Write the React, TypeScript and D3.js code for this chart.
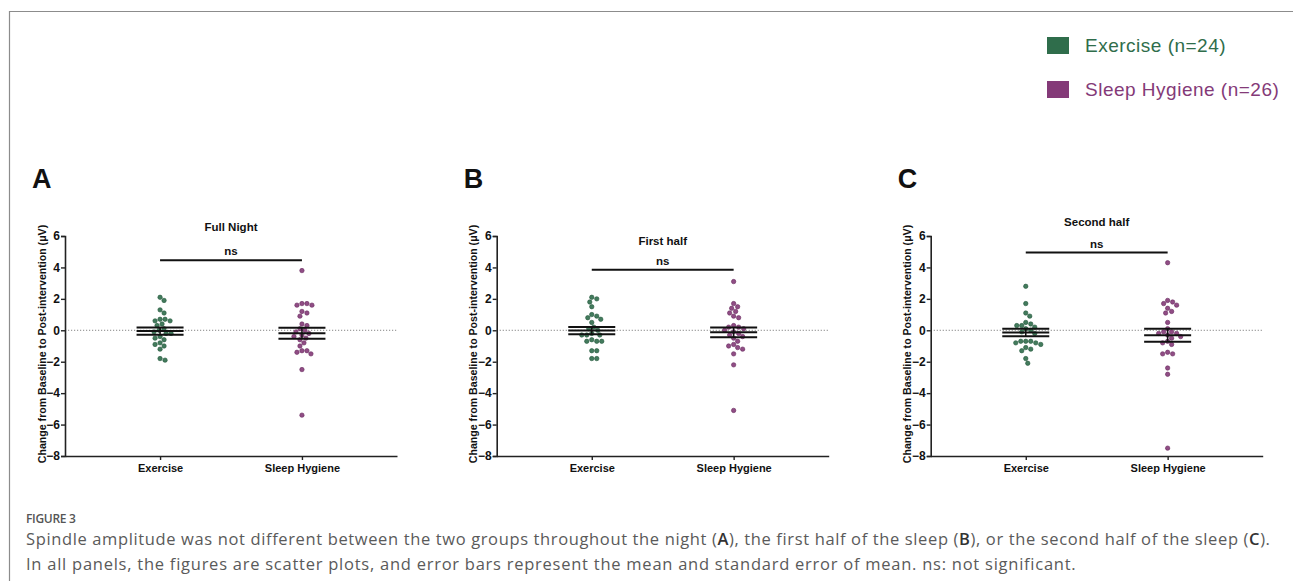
import React, { useEffect, useRef } from 'react';
import * as d3 from 'd3';

// groups and panels
const groups = ['Exercise', 'Sleep Hygiene'];
const panelLetters = ['A', 'B', 'C'];
const panelTitles = ['Full Night', 'First half', 'Second half'];
const yTicks = [6, 4, 2, 0, -2, -4, -6, -8];

// individual changes (µV)
const exerciseFull = [2.1, 1.9, 1.3, 1.1, 0.7, 0.7, 0.6, 0.6, 0.4, 0.3, 0.1, 0.0, -0.1, -0.2, -0.2, -0.4, -0.5, -0.6, -0.8, -0.9, -1.0, -1.2, -1.8, -1.9];
const sleepFull = [3.8, 1.7, 1.7, 1.6, 1.6, 1.2, 1.1, 0.9, 0.4, 0.3, 0.1, 0.0, -0.1, -0.2, -0.3, -0.4, -0.5, -0.6, -0.8, -1.0, -1.3, -1.3, -1.4, -1.5, -2.5, -5.4];
const exerciseFirst = [2.1, 2.0, 1.8, 1.5, 1.0, 0.9, 0.8, 0.7, 0.5, 0.2, 0.1, 0.0, -0.2, -0.3, -0.3, -0.3, -0.6, -0.7, -0.7, -0.7, -1.3, -1.3, -1.8, -1.8];
const sleepFirst = [3.1, 1.7, 1.5, 1.4, 1.2, 1.1, 0.9, 0.8, 0.3, 0.2, 0.2, 0.1, 0.0, -0.1, -0.2, -0.3, -0.4, -0.5, -0.7, -0.9, -1.0, -1.1, -1.2, -1.5, -2.2, -5.1];
const exerciseSecond = [2.8, 1.7, 1.1, 0.9, 0.5, 0.4, 0.3, 0.3, 0.2, 0.1, 0.0, -0.1, -0.2, -0.7, -0.7, -0.7, -0.8, -0.8, -0.9, -1.1, -1.2, -1.3, -1.8, -2.1];
const sleepSecond = [4.3, 1.9, 1.8, 1.7, 1.6, 1.4, 1.2, 1.1, 0.5, 0.1, -0.1, -0.1, -0.2, -0.2, -0.3, -0.4, -0.5, -0.7, -0.8, -0.9, -1.4, -1.5, -1.5, -2.4, -2.8, -7.5];

// mean and SEM bars, per panel
const exerciseMeans = [-0.05, -0.02, -0.14];
const exerciseSems = [0.23, 0.235, 0.24];
const sleepMeans = [-0.19, -0.13, -0.32];
const sleepSems = [0.35, 0.31, 0.41];
const nsBarLevels = [4.45, 3.85, 4.95];

const legendLabels = ['Exercise (n=24)', 'Sleep Hygiene (n=26)'];
const colors = ['#2f6d4b', '#843a78'];
const strokeColors = ['#24573b', '#6a2b60'];

const panels = [
  { ex: exerciseFull, sl: sleepFull },
  { ex: exerciseFirst, sl: sleepFirst },
  { ex: exerciseSecond, sl: sleepSecond },
];

// greedy beeswarm: closest free horizontal slot
const swarm = (ys: number[], diam: number) => {
  const placed: { x: number; y: number }[] = [];
  return ys.map(y => {
    let off = 0;
    for (let k = 0; k < 400; k++) {
      const cand = k === 0 ? 0 : (k % 2 ? 1 : -1) * Math.ceil(k / 2) * 0.5;
      const ok = placed.every(p => (p.x - cand) ** 2 + (p.y - y) ** 2 >= diam * diam);
      if (ok) { off = cand; break; }
    }
    placed.push({ x: off, y });
    return off;
  });
};

const App = () => {
  const svgRef = useRef<SVGSVGElement>(null);

  useEffect(() => {
    document.body.style.margin = '0';
    const W = 1293, H = 581;
    const svg = d3.select(svgRef.current).attr('width', W).attr('height', H);
    svg.selectAll('*').remove();

    svg.append('rect').attr('width', W).attr('height', H).attr('fill', '#fff');

    // frame
    svg.append('path')
      .attr('d', `M9.5,${H} V11.5 H${W}`)
      .attr('fill', 'none').attr('stroke', '#8c8c8c').attr('stroke-width', 1.2);

    // legend
    legendLabels.forEach((lab, i) => {
      const ly = 37 + i * 44;
      svg.append('rect').attr('x', 1047).attr('y', ly).attr('width', 22).attr('height', 17).attr('fill', colors[i]);
      svg.append('text').attr('x', 1085).attr('y', ly + 14.5)
        .attr('font-family', 'Liberation Sans, Arial, sans-serif').attr('font-size', 19)
        .attr('letter-spacing', 0.5)
        .attr('fill', colors[i]).text(lab);
    });

    const y = d3.scaleLinear().domain([-8, 6]).range([456, 236]);
    const originsX = [65, 496.7, 930.7];
    const titleBase = [231, 244.5, 226];
    const font = 'Liberation Sans, Arial, sans-serif';

    panels.forEach((pd, pi) => {
      const ox = originsX[pi];
      const g = svg.append('g').attr('transform', `translate(${ox},0)`);
      const x = d3.scalePoint<string>().domain(groups).range([0, 332]).padding(0.67);

      // letter
      svg.append('text').attr('x', ox - 33).attr('y', 188)
        .attr('font-family', font).attr('font-weight', 700).attr('font-size', 27)
        .attr('fill', '#111').text(panelLetters[pi]);

      // zero line
      g.append('line').attr('x1', 0).attr('x2', 332).attr('y1', y(0)).attr('y2', y(0))
        .attr('stroke', '#777').attr('stroke-width', 0.9).attr('stroke-dasharray', '1.2,1.8');

      // y axis
      const ya = g.append('g').call(d3.axisLeft(y).tickValues(yTicks).tickSize(4).tickPadding(1).tickFormat(d3.format('d')));
      ya.select('.domain').attr('stroke', '#222').attr('stroke-width', 1.6);
      ya.selectAll('.tick line').attr('stroke', '#222').attr('stroke-width', 1.4);
      ya.selectAll('.tick text').attr('font-family', font).attr('font-weight', 700)
        .attr('font-size', 12).attr('fill', '#111');

      // x axis
      const xa = g.append('g').attr('transform', `translate(0,${y(-8)})`)
        .call(d3.axisBottom(x).tickSize(4).tickSizeOuter(0).tickPadding(4));
      xa.select('.domain').attr('stroke', '#222').attr('stroke-width', 1.6);
      xa.selectAll('.tick line').attr('stroke', '#222').attr('stroke-width', 1.4);
      xa.selectAll('.tick text').attr('font-family', font).attr('font-weight', 700)
        .attr('font-size', 11).attr('fill', '#111');

      // y label
      g.append('text')
        .attr('transform', `translate(-19.5,${344}) rotate(-90)`)
        .attr('text-anchor', 'middle').attr('font-family', font).attr('font-weight', 700)
        .attr('font-size', 10.6).attr('fill', '#111')
        .text('Change from Baseline to  Post-intervention (\u03bcV)');

      // title + ns
      const cx = ((x('Exercise') ?? 0) + (x('Sleep Hygiene') ?? 0)) / 2;
      g.append('text').attr('x', cx).attr('y', titleBase[pi]).attr('text-anchor', 'middle')
        .attr('font-family', font).attr('font-weight', 700).attr('font-size', 11.5).attr('fill', '#111')
        .text(panelTitles[pi]);
      const nsY = y(nsBarLevels[pi]);
      g.append('line').attr('x1', x('Exercise') ?? 0).attr('x2', x('Sleep Hygiene') ?? 0)
        .attr('y1', nsY).attr('y2', nsY).attr('stroke', '#111').attr('stroke-width', 2);
      g.append('text').attr('x', cx).attr('y', nsY - 5).attr('text-anchor', 'middle')
        .attr('font-family', font).attr('font-weight', 700).attr('font-size', 11.5).attr('fill', '#111')
        .text('ns');

      // points + error bars
      const sets = [
        { vals: pd.ex, mean: exerciseMeans[pi], sem: exerciseSems[pi] },
        { vals: pd.sl, mean: sleepMeans[pi], sem: sleepSems[pi] },
      ];
      sets.forEach((s, gi) => {
        const gx = x(groups[gi]) ?? 0;
        const sorted = [...s.vals].sort((a, b) => b - a);
        const ys = sorted.map(v => y(v));
        const offs = swarm(ys, 5.0);

        g.selectAll(null).data(sorted).enter().append('circle')
          .attr('cx', (_, i) => gx + offs[i]).attr('cy', (_, i) => ys[i]).attr('r', 2.2)
          .attr('fill', colors[gi]).attr('stroke', strokeColors[gi]).attr('stroke-width', 0.6)
          .attr('fill-opacity', 0.9);

        const hw = 23.5;
        const lv = [s.mean + s.sem, s.mean, s.mean - s.sem];
        g.selectAll(null).data(lv).enter().append('line')
          .attr('x1', gx - hw).attr('x2', gx + hw)
          .attr('y1', d => y(d)).attr('y2', d => y(d))
          .attr('stroke', '#111').attr('stroke-width', 2);
        g.append('line').attr('x1', gx).attr('x2', gx)
          .attr('y1', y(lv[0])).attr('y2', y(lv[2]))
          .attr('stroke', '#111').attr('stroke-width', 1.5);
      });
    });

    // caption
    const cap = svg.append('g').attr('font-family', 'Open Sans, sans-serif').attr('fill', '#5a5a5a');
    cap.append('text').attr('x', 26).attr('y', 523).attr('font-size', 12).attr('font-weight', 600)
      .attr('letter-spacing', -0.3).attr('fill', '#555').text('FIGURE 3');
    const line1 = cap.append('text').attr('x', 26).attr('y', 545).attr('font-size', 16.5)
      .attr('letter-spacing', 0.63);
    const parts1: [string, boolean][] = [
      ['Spindle amplitude was not different between the two groups throughout the night (', false],
      ['A', true], ['), the first half of the sleep (', false], ['B', true],
      ['), or the second half of the sleep (', false], ['C', true], [').', false],
    ];
    parts1.forEach(([t, b]) => {
      const ts = line1.append('tspan').text(t);
      if (b) ts.attr('font-weight', 600).attr('fill', '#333');
    });
    cap.append('text').attr('x', 26).attr('y', 570).attr('font-size', 16.5).attr('letter-spacing', 0.75)
      .text('In all panels, the figures are scatter plots, and error bars represent the mean and standard error of mean. ns: not significant.');
  }, []);

  return <svg ref={svgRef} style={{ display: 'block' }}></svg>;
};

export default App;
